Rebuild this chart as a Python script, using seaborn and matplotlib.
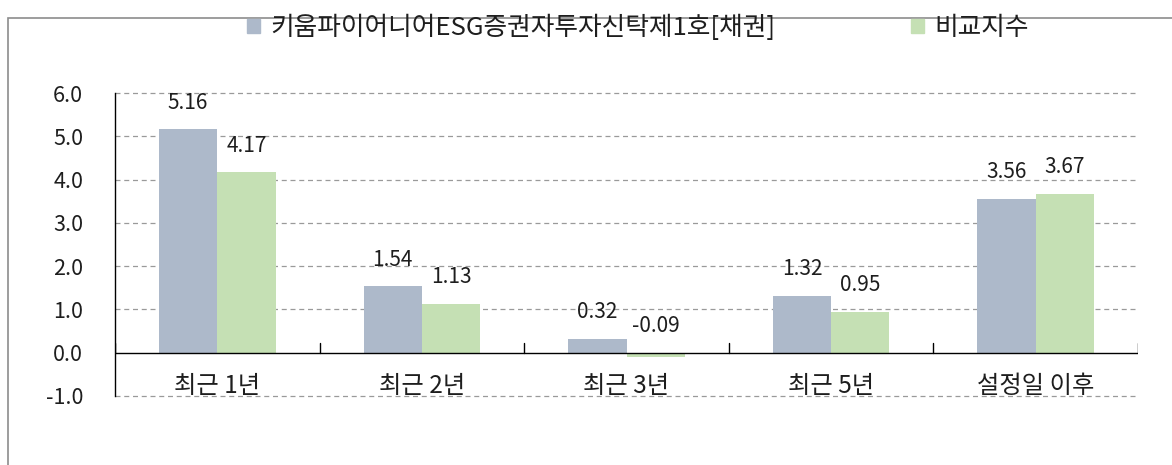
import pandas as pd
import matplotlib.pyplot as plt
import seaborn as sns
from matplotlib.patches import Rectangle

# 기간별 수익률 (%)
periods = ['최근 1년', '최근 2년', '최근 3년', '최근 5년', '설정일 이후']
fund_name = '키움파이어니어ESG증권자투자신탁제1호[채권]'
bench_name = '비교지수'
fund_values = [5.16, 1.54, 0.32, 1.32, 3.56]
bench_values = [4.17, 1.13, -0.09, 0.95, 3.67]
y_ticks = [-1.0, 0.0, 1.0, 2.0, 3.0, 4.0, 5.0, 6.0]

colors = ['#ADB9CA', '#C5E0B4']
txt = '#1e1e1e'

df = pd.DataFrame({
    'period': periods * 2,
    'series': [fund_name] * len(periods) + [bench_name] * len(periods),
    'value': fund_values + bench_values,
})

sns.set_style('white')
plt.rcParams['font.family'] = ['Noto Sans CJK KR', 'DejaVu Sans']
plt.rcParams['axes.unicode_minus'] = False

fig = plt.figure(figsize=(11.72, 4.65), dpi=100)
ax = fig.add_axes([115 / 1172, 1 - 396 / 465, (1138 - 115) / 1172, (396 - 93) / 465])

sns.barplot(data=df, x='period', y='value', hue='series', palette=colors,
            width=0.57, saturation=1, linewidth=0, ax=ax, legend=False)

ax.set_xlim(-0.5, len(periods) - 0.5)
ax.set_ylim(-1.0, 6.0)
ax.set_yticks(y_ticks)
ax.set_yticklabels([f'{t:.1f}' for t in y_ticks], fontsize=15.5, color=txt)
ax.set_xticks([])
ax.set_xlabel('')
ax.set_ylabel('')
for side in ['top', 'right', 'bottom']:
    ax.spines[side].set_visible(False)
ax.spines['left'].set_color('black')
ax.spines['left'].set_linewidth(1)
ax.tick_params(axis='y', direction='in', length=7, width=1, color='black', pad=23)

for t in y_ticks:
    if t != 0:
        ax.axhline(t, color='#9a9a9a', lw=0.9, ls=(0, (4, 3)), zorder=0, clip_on=False)
ax.axhline(0, color='black', lw=1, zorder=3)
# 카테고리 경계 눈금
for i in range(len(periods) + 1):
    ax.plot([i - 0.5, i - 0.5], [0, 0.23], color='black', lw=1, zorder=3)

# 값 라벨
for cont in ax.containers:
    for bar in cont:
        val = bar.get_y() + bar.get_height() if bar.get_y() >= 0 else -bar.get_height()
        x = bar.get_x() + bar.get_width() / 2
        top = max(bar.get_y() + bar.get_height(), 0)
        ax.annotate(f'{val:.2f}', (x, top), xytext=(0, 19), textcoords='offset points',
                    ha='center', va='center', fontsize=15, color=txt)

for i, p in enumerate(periods):
    ax.text(i, -0.76, p, ha='center', va='center', fontsize=17.5, color=txt)

# 범례
handles = [plt.Rectangle((0, 0), 1, 1, color=c) for c in colors]
fig.legend(handles, [fund_name, bench_name], loc='center left',
           bbox_to_anchor=(247 / 1172, 1 - 28 / 465), ncol=2, frameon=False,
           fontsize=18.5, handlelength=0.5, handleheight=0.5, handletextpad=0.4,
           columnspacing=5.3, borderpad=0, borderaxespad=0, labelcolor=txt)

# 바깥 테두리
fig.patches.append(Rectangle((8 / 1172, -0.1), 1.2, 1.1 - 18 / 465, transform=fig.transFigure,
                             fill=False, edgecolor='#8c8c8c', lw=1.2, clip_on=False))

fig.savefig('out.png', dpi=100)
